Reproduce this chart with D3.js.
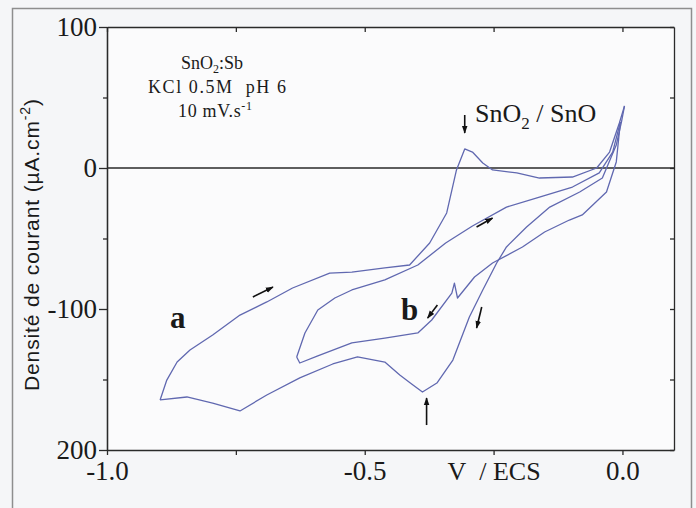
<!DOCTYPE html>
<html><head><meta charset="utf-8">
<script src="https://cdn.jsdelivr.net/npm/d3@7"></script>
<style>html,body{margin:0;padding:0;background:#f5f6f8;} svg{display:block}</style>
</head><body><svg id="c" width="696" height="508"></svg>
<script>
// ---- data (V / ECS, µA.cm-2) ----
const aForwardV = [-0.897,-0.884,-0.864,-0.839,-0.795,-0.742,-0.690,-0.640,-0.568,-0.525,-0.461,-0.413,-0.374,-0.341,-0.322,-0.306,-0.291,-0.271,-0.252,-0.205,-0.161,-0.097,-0.050,-0.025,-0.006,0.004];
const aForwardI = [-164.5,-150.4,-137.6,-129.1,-118.4,-104.3,-95.0,-85.1,-74.5,-73.8,-70.9,-68.8,-53.2,-31.9,-1.4,13.5,11.3,3.5,-1.4,-3.5,-7.1,-6.4,0,11.3,31.9,44];
const aReverseV = [0.004,-0.002,-0.012,-0.039,-0.083,-0.141,-0.186,-0.225,-0.244,-0.271,-0.297,-0.329,-0.360,-0.388,-0.409,-0.432,-0.461,-0.514,-0.562,-0.626,-0.690,-0.742,-0.795,-0.845,-0.897];
const aReverseI = [44,32.6,16.3,-7.1,-17.0,-27.7,-41.8,-56.0,-67.4,-86.5,-105.7,-136.2,-152.5,-158.9,-153.2,-146.8,-137.6,-134.0,-139.0,-148.9,-161.0,-172.3,-166.7,-162.4,-164.5];
const bForwardV = [-0.632,-0.616,-0.591,-0.558,-0.525,-0.461,-0.397,-0.343,-0.291,-0.225,-0.161,-0.097,-0.045,-0.019,-0.004];
const bForwardI = [-134.0,-117.0,-100.7,-92.2,-86.5,-79.4,-68.8,-53.2,-41.1,-27.7,-20.6,-13.5,-3.5,11.3,32.6];
const bReverseV = [-0.004,-0.012,-0.031,-0.078,-0.103,-0.151,-0.194,-0.252,-0.287,-0.320,-0.326,-0.331,-0.370,-0.397,-0.461,-0.525,-0.591,-0.626,-0.632];
const bReverseI = [32.6,4.3,-17.0,-33.3,-36.9,-45.4,-56.0,-67.4,-77.3,-92.2,-81.6,-88.7,-107.8,-117.0,-120.6,-124.1,-133.3,-138.3,-134.0];

const xMajorTicks = [-1.0,-0.5,0.0];
const xTickLabels = ["-1.0","-0.5","0.0"];
const xMinorTicks = [-1.0,-0.75,-0.5,-0.25,0.0];
const yMajorTicks = [100,0,-100,-200];
const yTickLabels = ["100","0","-100","200"];
const yMinorTicks = [50,-50,-150];
const yAllTicks = [100,50,0,-50,-100,-150,-200];

// arrows along scan directions [fromV, fromI, toV, toI]
const arrowsData = [
  [-0.717,-91.5,-0.678,-84.4],
  [-0.283,-41.8,-0.252,-35.5],
  [-0.359,-97.2,-0.378,-106.4],
  [-0.273,-98.6,-0.283,-113.5],
  [-0.306,37.6,-0.306,24.8],
  [-0.380,-182.3,-0.380,-163.1]
];

const svg = d3.select("#c");
const x = d3.scaleLinear().domain([-1.0,0.1]).range([107,674]);
const y = d3.scaleLinear().domain([-200,100]).range([450,27]);
const ink = "#2a2a2a";
const lineCol = "#6068b0";

// page border
svg.append("rect").attr("x",12.5).attr("y",8.5).attr("width",679).attr("height",530)
  .attr("fill","none").attr("stroke","#8e8e8e").attr("stroke-width",1.5);
svg.append("rect").attr("x",107).attr("y",27).attr("width",567).attr("height",423).attr("fill","#fbfbfc");

// zero line
svg.append("line").attr("x1",x(-1.0)).attr("x2",x(0.1)).attr("y1",y(0)).attr("y2",y(0))
  .attr("stroke",ink).attr("stroke-width",1.3);

function styleAxis(g){ g.selectAll("path,line").attr("stroke",ink).attr("stroke-width",1.3);
  g.selectAll("text").attr("fill","#1a1a1a").attr("font-family","'Liberation Serif','Times New Roman',serif").attr("font-size",27); }

// left axis
const gl = svg.append("g").attr("transform","translate(107,0)")
  .call(d3.axisLeft(y).tickValues(yMajorTicks).tickSize(8).tickSizeOuter(0).tickPadding(2)
    .tickFormat((d,i)=>yTickLabels[i]));
styleAxis(gl);
const glm = svg.append("g").attr("transform","translate(107,0)")
  .call(d3.axisLeft(y).tickValues(yMinorTicks).tickSize(4).tickSizeOuter(0).tickFormat(""));
styleAxis(glm);
// right axis
const gr = svg.append("g").attr("transform","translate(674,0)")
  .call(d3.axisRight(y).tickValues(yAllTicks).tickSize(-4).tickSizeOuter(0).tickFormat(""));
styleAxis(gr);
// bottom axis
const gb = svg.append("g").attr("transform","translate(0,450)")
  .call(d3.axisBottom(x).tickValues(xMinorTicks).tickSize(5).tickSizeOuter(0).tickFormat(""));
styleAxis(gb);
const gbl = svg.append("g").attr("transform","translate(0,450)")
  .call(d3.axisBottom(x).tickValues(xMajorTicks).tickSize(0).tickPadding(11).tickFormat((d,i)=>xTickLabels[i]));
styleAxis(gbl); gbl.select(".domain").remove();
// top axis
const gt = svg.append("g").attr("transform","translate(0,27)")
  .call(d3.axisTop(x).tickValues(xMinorTicks).tickSize(-5).tickSizeOuter(0).tickFormat(""));
styleAxis(gt);

// curves
const line = d3.line().x(d=>x(d[0])).y(d=>y(d[1]));
function branch(V,I){ return V.map((v,i)=>[v,I[i]]); }
[[aForwardV,aForwardI],[aReverseV,aReverseI],[bForwardV,bForwardI],[bReverseV,bReverseI]].forEach(([V,I])=>{
  svg.append("path").datum(branch(V,I)).attr("d",line).attr("fill","none")
    .attr("stroke",lineCol).attr("stroke-width",1.3).attr("stroke-linejoin","round");
});

// arrows
svg.append("defs").append("marker").attr("id","ah").attr("viewBox","0 0 10 10")
  .attr("refX",9).attr("refY",5).attr("markerWidth",8).attr("markerHeight",8).attr("orient","auto")
  .attr("markerUnits","userSpaceOnUse")
  .append("path").attr("d","M0,1.5 L10,5 L0,8.5 Z").attr("fill","#111");
arrowsData.forEach(a=>{
  svg.append("line").attr("x1",x(a[0])).attr("y1",y(a[1])).attr("x2",x(a[2])).attr("y2",y(a[3]))
    .attr("stroke","#111").attr("stroke-width",1.6).attr("marker-end","url(#ah)");
});

// texts
const serif = "'Liberation Serif','Times New Roman',serif";
function txt(xp,yp,size,anchor){ return svg.append("text").attr("x",xp).attr("y",yp).attr("font-family",serif)
  .attr("font-size",size).attr("text-anchor",anchor||"start").attr("fill","#1a1a1a"); }
let t1 = txt(212,69,18,"middle").attr("textLength",62).attr("lengthAdjust","spacing");
t1.append("tspan").text("SnO");
t1.append("tspan").attr("font-size",12).attr("dy",4).text("2");
t1.append("tspan").attr("dy",-4).text(":Sb");
txt(217,93,18,"middle").attr("textLength",138).attr("lengthAdjust","spacing").text("KCl 0.5M\u00a0 pH 6");
let t3 = txt(215,117,18,"middle").attr("textLength",74).attr("lengthAdjust","spacing");
t3.append("tspan").text("10 mV.s");
t3.append("tspan").attr("font-size",12).attr("dy",-7).text("-1");
let t4 = txt(475,122,26,"start"); t4.append("tspan").text("SnO");
t4.append("tspan").attr("font-size",17).attr("dy",7).text("2");
t4.append("tspan").attr("dy",-7).text(" / SnO");
txt(494,480,26,"middle").text("V\u00a0 / ECS");
txt(170,328,31,"start").attr("font-weight","bold").text("a");
txt(401,320,31,"start").attr("font-weight","bold").text("b");

// y label
const yl = svg.append("text").attr("transform","translate(39,245) rotate(-90)")
  .attr("text-anchor","middle").attr("font-family","'Liberation Sans',Arial,sans-serif")
  .attr("font-size",21).attr("fill","#1a1a1a").attr("textLength",292).attr("lengthAdjust","spacing");
yl.append("tspan").text("Densité de courant (µA.cm");
yl.append("tspan").attr("font-size",14).attr("dy",-9).text("-2");
yl.append("tspan").attr("dy",9).text(")");
</script></body></html>
